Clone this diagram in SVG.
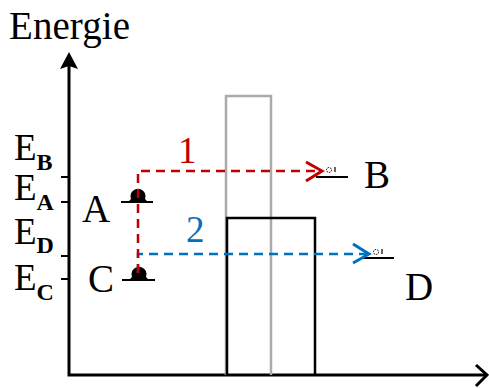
<svg xmlns="http://www.w3.org/2000/svg" width="489" height="388" viewBox="0 0 489 388">
<style>
.t{font-family:"Liberation Serif","Times New Roman",serif;fill:#000}
.big{font-size:37px}
.lbl{font-size:39px}
.sub{font-size:24px;font-weight:bold}
.lvl{stroke:#000;stroke-width:2;fill:none}
.ax{stroke:#000;stroke-width:3;fill:none}
.tick{stroke:#000;stroke-width:2}
.red{stroke:#c00000;stroke-width:2.5;fill:none;stroke-dasharray:9 6}
.blue{stroke:#0070c0;stroke-width:2.5;fill:none;stroke-dasharray:9 6}
.e{fill:#000}
.h{fill:none;stroke:#000;stroke-width:1;stroke-dasharray:1.5 1}
</style>
<rect width="489" height="388" fill="#fff"/>
<g id="axes">
<path class="ax" d="M69,66 V375 H487"/>
<path d="M69,52 L78,69 L69,66 L60,69 Z" fill="#000"/>
<path class="ax" d="M476,365 L487,375 L476,386"/>
<text class="t lbl" x="9" y="39" textLength="121">Energie</text>
<line class="tick" x1="61" y1="177" x2="69" y2="177"/>
<line class="tick" x1="61" y1="202" x2="69" y2="202"/>
<line class="tick" x1="61" y1="256" x2="69" y2="256"/>
<line class="tick" x1="61" y1="279" x2="69" y2="279"/>
<text class="t big" x="14" y="160">E<tspan class="sub" dy="10">B</tspan></text>
<text class="t big" x="14" y="200">E<tspan class="sub" dy="10">A</tspan></text>
<text class="t big" x="14" y="244">E<tspan class="sub" dy="9">D</tspan></text>
<text class="t big" x="14" y="290">E<tspan class="sub" dy="10">C</tspan></text>
</g>
<g id="barrier-gray">
<path d="M226,375 V96 H271 V375" fill="none" stroke="#aaa" stroke-width="2.5"/>
</g>
<g id="barrier-black">
<path d="M227,375 V218 H315 V375" fill="none" stroke="#000" stroke-width="2.5"/>
</g>
<g id="A">
<line class="lvl" x1="121" y1="202" x2="153" y2="202"/>
<path class="e" d="M128,202 L131,199 A7.5,7.5 0 1 1 145,199 L148,202 Z"/>
<text class="t lbl" x="82" y="222">A</text>
</g>
<g id="C">
<line class="lvl" x1="122" y1="280" x2="155" y2="280"/>
<path class="e" d="M129,280 L132,277 A7.5,7.5 0 1 1 146,277 L149,280 Z"/>
<text class="t lbl" x="88" y="292">C</text>
</g>
<g id="B">
<line class="lvl" x1="316" y1="177" x2="348" y2="177"/>
<circle class="h" cx="329" cy="170" r="2.5"/>
<line x1="335" y1="167" x2="335" y2="172" stroke="#000" stroke-width="1.2"/>
<text class="t lbl" x="364" y="188">B</text>
</g>
<g id="D">
<line class="lvl" x1="362" y1="258" x2="394" y2="258"/>
<circle class="h" cx="376" cy="252" r="2.5"/>
<line x1="382" y1="249" x2="382" y2="254" stroke="#000" stroke-width="1.2"/>
<text class="t lbl" x="405" y="300">D</text>
</g>
<g id="connectors">
<path class="blue" d="M138,273 V254 H366"/>
<path d="M353,244 L369,254 L353,263" fill="none" stroke="#0070c0" stroke-width="3"/>
<path class="red" d="M138,273 V171 H320"/>
<path d="M306,162 L322,171 L306,181" fill="none" stroke="#c00000" stroke-width="3"/>
<text class="t big" x="178" y="163" style="fill:#c00000">1</text>
<text class="t big" x="186" y="242" style="fill:#0070c0">2</text>
</g>
</svg>
